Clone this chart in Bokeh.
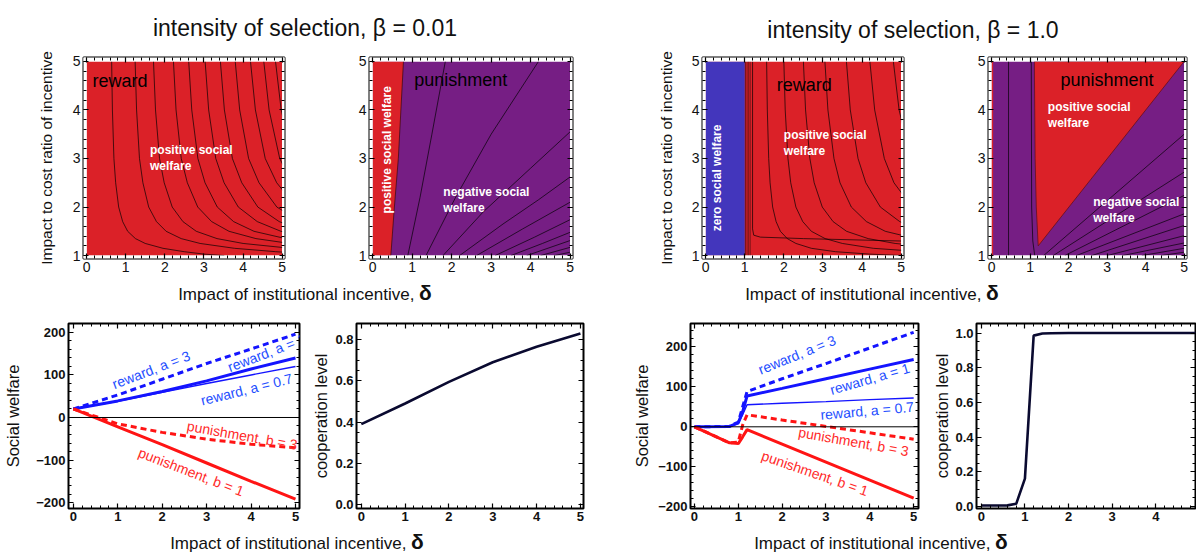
from bokeh.plotting import figure
from bokeh.layouts import row, column
from bokeh.models import Div, Range1d, LinearAxis, Span, FixedTicker
from bokeh.core.properties import value
from bokeh.embed import file_html
from bokeh.resources import INLINE
import math

# ---------------- data ----------------
ticks_delta = [0, 1, 2, 3, 4, 5]
ticks_ratio = [1, 2, 3, 4, 5]
ticks_welfare = [-200, -100, 0, 100, 200]
ticks_coop_lo = [0.0, 0.2, 0.4, 0.6, 0.8]
ticks_coop_hi = [0.0, 0.2, 0.4, 0.6, 0.8, 1.0]

# panel 1: reward, beta = 0.01 (contours: x-position at ratio 5, common shape)
p1_top_x = [0.64, 1.24, 1.71, 2.22, 2.61, 3.03, 3.42, 3.80, 4.19, 4.53, 4.83]
p1_shape_y = [5, 4, 3, 2.5, 2, 1.7, 1.5, 1.35, 1.25, 1.15, 1.08, 1.03, 1.0]
p1_shape_x = [1, 1.03, 1.09, 1.16, 1.28, 1.44, 1.64, 1.95, 2.34, 3.05, 3.9, 4.7, 5.5]

# panel 2: punishment, beta = 0.01
p2_boundary_x = [0.46, 0.55, 0.65, 0.78]
p2_boundary_y = [1, 2, 3, 5]
p2_contours_x = [[0.89, 1.2, 1.5, 1.84], [1.35, 2.1, 3.0, 4.2], [1.78, 2.8, 4.0, 5.0],
                 [2.2, 3.3, 4.2, 5.0], [2.63, 3.8, 5.0], [3.1, 4.1, 5.0], [3.5, 4.3, 5.0],
                 [3.9, 5.0], [4.25, 5.0], [4.6, 5.0]]
p2_contours_y = [[1, 2.2, 3.5, 5], [1, 2.2, 3.5, 5], [1, 1.9, 2.8, 3.55],
                 [1, 1.65, 2.15, 2.62], [1, 1.55, 2.1], [1, 1.38, 1.74], [1, 1.25, 1.48],
                 [1, 1.31], [1, 1.17], [1, 1.07]]

# panel 3: reward, beta = 1.0
p3_zero_right = 1.0
p3_band_x = [1.02, 1.06, 1.10, 1.14]
p3_L_x = [1.2, 1.2, 1.23, 1.4, 2.5, 5.0]
p3_L_y = [5, 1.55, 1.42, 1.38, 1.35, 1.3]
p3_x0 = 1.12
p3_top_offset = [0.44, 0.88, 1.38, 1.93, 2.48, 3.08, 3.68]
p3_shape_y = [5, 4, 3, 2.5, 2, 1.7, 1.5, 1.35, 1.25, 1.15, 1.08, 1.03, 1.0]
p3_shape_x = [1, 1.04, 1.12, 1.2, 1.35, 1.55, 1.8, 2.2, 2.7, 3.6, 5.0, 7.0, 9.0]

# panel 4: punishment, beta = 1.0
p4_strip_right = 0.04
p4_tri_x = [1.11, 5.0, 1.21, 1.16, 1.13]
p4_tri_y = [5.0, 5.0, 1.2, 2.0, 3.0]
p4_vline_x = [0.44]
p4_curve_x = [1.03, 1.04, 1.07, 1.12]
p4_curve_y = [5, 2, 1.3, 1.0]
p4_fan_start_x = [1.35, 1.6, 1.9, 2.2, 2.6, 3.0, 3.4, 3.9, 4.4]
p4_fan_end_y = [3.5, 2.72, 2.24, 1.86, 1.62, 1.41, 1.26, 1.15, 1.07]

# panel 5: social welfare, beta = 0.01
w_lo_delta = [0, 1, 2, 3, 4, 5]
w_lo_reward_a3 = [20, 53, 90, 127, 161, 196]
w_lo_reward_a1 = [20, 39, 61, 86, 114, 140]
w_lo_reward_a07 = [20, 38, 59, 80, 100, 120]
w_lo_pun_b3 = [20, -15, -35, -51, -63, -71]
w_lo_pun_b1 = [20, -22, -64, -107, -150, -192]

# panel 6: cooperation, beta = 0.01
c_lo_delta = [0, 1, 2, 3, 4, 5]
c_lo_level = [0.39, 0.49, 0.595, 0.69, 0.765, 0.83]

# panel 7: social welfare, beta = 1.0
w_hi_delta = [0, 0.8, 1.0, 1.1, 1.2, 2, 3, 4, 5]
w_hi_reward_a3 = [0, 1, 12, 50, 88, 120, 158, 197, 236]
w_hi_reward_a1 = [0, 1, 10, 38, 77, 96, 120, 144, 168]
w_hi_reward_a07 = [0, 1, 8, 30, 55, 59, 63, 68, 72]
w_hi_pun_b3 = [0, -40, -38, 5, 30, 17, 1, -15, -31]
w_hi_pun_b1 = [0, -40, -42, -25, -7, -43, -88, -133, -178]

# panel 8: cooperation, beta = 1.0
c_hi_delta = [0, 0.2, 0.4, 0.6, 0.8, 1.0, 1.2, 1.4, 1.6, 2, 3, 4, 5]
c_hi_level = [0.005, 0.005, 0.005, 0.006, 0.015, 0.16, 0.985, 0.997, 0.999, 1, 1, 1, 1]

curve_names = ["reward, a = 3", "reward, a = 1", "reward, a = 0.7",
               "punishment, b = 3", "punishment, b = 1"]

# ---------------- styling ----------------
FONT = "Liberation Sans"
RED = "#DB2128"
PURPLE = "#761E84"
ZBLUE = "#4336BC"
LBLUE = "#1414FF"
LRED = "#FF1414"
TBLUE = "#1F4FFF"
TRED = "#FF2A2A"


def minor(lo, hi, step):
    n = int(round((hi - lo) / step))
    return [lo + i * step for i in range(n + 1)]


def make_fig(w, h, bl, br, bt, bb, xr, yr):
    p = figure(width=w, height=h, x_range=Range1d(*xr), y_range=Range1d(*yr),
               output_backend="svg", toolbar_location=None, title=None,
               min_border_left=bl, min_border_right=br,
               min_border_top=bt, min_border_bottom=bb)
    p.xgrid.visible = False
    p.ygrid.visible = False
    p.outline_line_color = "black"
    p.outline_line_width = 2
    p.background_fill_color = "white"
    p.border_fill_color = "white"
    return p


def style_axis(ax, ticks, mticks, fs, bold, show=True, overrides=None):
    ax.ticker = FixedTicker(ticks=ticks, minor_ticks=mticks)
    ax.axis_line_color = None
    ax.major_tick_in = 5
    ax.major_tick_out = 0
    ax.minor_tick_in = 3
    ax.minor_tick_out = 0
    ax.major_tick_line_width = 1.2
    ax.minor_tick_line_width = 1
    ax.major_label_text_font = FONT
    ax.major_label_text_font_style = "bold" if bold else "normal"
    if show:
        ax.major_label_text_color = "#111111"
        ax.major_label_text_font_size = fs
        ax.major_label_standoff = 3
    else:
        ax.major_label_text_color = None
        ax.major_label_text_font_size = "1px"
        ax.major_label_standoff = 0
    if overrides:
        ax.major_label_overrides = overrides


def setup_axes(p, xt, xm, yt, ym, fs, bold, ylabel=None, ylab_fs="15.5px",
               ylab_standoff=10, yover=None):
    style_axis(p.xaxis[0], xt, xm, fs, bold)
    style_axis(p.yaxis[0], yt, ym, fs, bold, overrides=yover)
    if ylabel:
        p.yaxis[0].axis_label = ylabel
        p.yaxis[0].axis_label_text_font = FONT
        p.yaxis[0].axis_label_text_font_size = ylab_fs
        p.yaxis[0].axis_label_text_font_style = "normal"
        p.yaxis[0].axis_label_text_color = "#111111"
        p.yaxis[0].axis_label_standoff = ylab_standoff
    top = LinearAxis()
    style_axis(top, xt, xm, fs, bold, show=False)
    p.add_layout(top, "above")
    right = LinearAxis()
    style_axis(right, yt, ym, fs, bold, show=False)
    p.add_layout(right, "right")


def mask(p):
    # white strip between the region plot and the frame
    p.quad(left=[-1, 5, -1, -1], right=[0, 6, 6, 6], bottom=[0, 0, 0, 5],
           top=[6, 6, 1, 6], fill_color="white", line_color=None)


def txt(p, x, y, s, size, color, bold=False, align="left", baseline="top", angle=0.0):
    p.text(x=[x], y=[y], text=[s], text_font=value(FONT), text_font_size=size,
           text_color=color, text_font_style="bold" if bold else "normal",
           text_align=align, text_baseline=baseline, angle=angle, text_line_height=1.15)


XR_TOP = (-0.08, 5.06)
YR_TOP = (0.94, 5.08)
xm_top = minor(0, 5, 0.2)
ym_top = minor(1, 5, 0.2)
H_TOP = 237

# ---- panel 1
p1 = make_fig(339, H_TOP, 83, 55, 12, 24, XR_TOP, YR_TOP)
p1.quad(left=[0], right=[5], bottom=[1], top=[5], fill_color=RED, line_color=None)
p1.multi_line(xs=[[s * v for v in p1_shape_x] for s in p1_top_x],
              ys=[p1_shape_y for _ in p1_top_x], line_color="black", line_width=0.8, line_alpha=0.85)
mask(p1)
txt(p1, 0.15, 4.8, "reward", "18px", "black")
txt(p1, 1.62, 3.32, "positive social\nwelfare", "12px", "white", bold=True)
setup_axes(p1, ticks_delta, xm_top, ticks_ratio, ym_top, "14px", False,
           ylabel="Impact to cost ratio of incentive", ylab_standoff=15)

# ---- panel 2
p2 = make_fig(303, H_TOP, 30, 70, 12, 24, XR_TOP, YR_TOP)
p2.quad(left=[0], right=[5], bottom=[1], top=[5], fill_color=PURPLE, line_color=None)
p2.patch(x=[0] + p2_boundary_x + [0], y=[1] + p2_boundary_y + [5], fill_color=RED, line_color=None)
p2.line(p2_boundary_x, p2_boundary_y, line_color="#3a0a10", line_width=0.9, line_alpha=0.8)
p2.multi_line(xs=p2_contours_x, ys=p2_contours_y, line_color="black", line_width=0.8, line_alpha=0.85)
mask(p2)
txt(p2, 1.05, 4.82, "punishment", "18px", "black")
txt(p2, 0.36, 3.18, "positive social welfare", "12px", "white", bold=True,
    align="center", baseline="middle", angle=math.pi / 2)
txt(p2, 1.79, 2.45, "negative social\nwelfare", "12px", "white", bold=True)
setup_axes(p2, ticks_delta, xm_top, ticks_ratio, ym_top, "14px", False)

# ---- panel 3
p3 = make_fig(316, H_TOP, 60, 55, 12, 24, XR_TOP, YR_TOP)
p3.quad(left=[0], right=[5], bottom=[1], top=[5], fill_color=RED, line_color=None)
p3.quad(left=[0], right=[p3_zero_right], bottom=[1], top=[5], fill_color=ZBLUE, line_color=None)
p3.multi_line(xs=[[v, v] for v in p3_band_x], ys=[[1, 5] for _ in p3_band_x],
              line_color="black", line_width=0.7, line_alpha=0.6)
p3.line(p3_L_x, p3_L_y, line_color="black", line_width=0.8, line_alpha=0.85)
p3.multi_line(xs=[[p3_x0 + s * v for v in p3_shape_x] for s in p3_top_offset],
              ys=[p3_shape_y for _ in p3_top_offset], line_color="black", line_width=0.8, line_alpha=0.85)
mask(p3)
txt(p3, 1.82, 4.72, "reward", "18px", "black")
txt(p3, 2.0, 3.62, "positive social\nwelfare", "12px", "white", bold=True)
txt(p3, 0.3, 2.6, "zero social welfare", "12px", "white", bold=True,
    align="center", baseline="middle", angle=math.pi / 2)
setup_axes(p3, ticks_delta, xm_top, ticks_ratio, ym_top, "14px", False,
           ylabel="Impact to cost ratio of incentive", ylab_standoff=14)

# ---- panel 4
p4 = make_fig(238, H_TOP, 30, 10, 12, 24, XR_TOP, YR_TOP)
p4.quad(left=[0], right=[5], bottom=[1], top=[5], fill_color=PURPLE, line_color=None)
p4.quad(left=[0], right=[p4_strip_right], bottom=[1], top=[5], fill_color=RED, line_color=None)
p4.patch(x=p4_tri_x, y=p4_tri_y, fill_color=RED, line_color="#5a0d1a", line_width=0.9, line_alpha=0.8)
p4.multi_line(xs=[[v, v] for v in p4_vline_x], ys=[[1, 5] for _ in p4_vline_x],
              line_color="black", line_width=0.8, line_alpha=0.85)
p4.line(p4_curve_x, p4_curve_y, line_color="black", line_width=0.8, line_alpha=0.85)
p4.multi_line(xs=[[sx, 5.0] for sx in p4_fan_start_x], ys=[[1.0, ey] for ey in p4_fan_end_y],
              line_color="black", line_width=0.8, line_alpha=0.85)
mask(p4)
txt(p4, 1.79, 4.82, "punishment", "18px", "black")
txt(p4, 1.46, 4.2, "positive social\nwelfare", "12px", "white", bold=True)
txt(p4, 2.64, 2.24, "negative social\nwelfare", "12px", "white", bold=True)
setup_axes(p4, ticks_delta, xm_top, ticks_ratio, ym_top, "14px", False)

# ---------------- bottom row ----------------
H_BOT = 226
xm_bot = minor(0, 5, 0.2)
wover = {-200: "\u2212200", -100: "\u2212100", 0: "0", 100: "100", 200: "200"}
cover_lo = {v: "%.1f" % v for v in ticks_coop_lo}
cover_hi = {v: "%.1f" % v for v in ticks_coop_hi}


def welfare_lines(p, xs, a3, a1, a07, b3, b1):
    p.add_layout(Span(location=0, dimension="width", line_color="black", line_width=1))
    p.line(xs, a07, line_color=LBLUE, line_width=1.4)
    p.line(xs, a1, line_color=LBLUE, line_width=3)
    p.line(xs, a3, line_color=LBLUE, line_width=3, line_dash="6 4")
    p.line(xs, b3, line_color=LRED, line_width=3, line_dash="6 4")
    p.line(xs, b1, line_color=LRED, line_width=3)


def welfare_labels(p, pos):
    cols = [TBLUE, TBLUE, TBLUE, TRED, TRED]
    for name, (x, y, ang), c in zip(curve_names, pos, cols):
        txt(p, x, y, name, "14px", c, align="center", baseline="middle",
            angle=math.radians(ang))


# ---- panel 5
p5 = make_fig(309, H_BOT, 68, 10, 21, 20, (-0.11, 5.09), (-214, 221))
welfare_lines(p5, w_lo_delta, w_lo_reward_a3, w_lo_reward_a1, w_lo_reward_a07, w_lo_pun_b3, w_lo_pun_b1)
welfare_labels(p5, [(1.75, 112, 21), (4.35, 152, 21), (3.9, 66, 14), (3.8, -42, -10), (2.65, -128, -21)])
setup_axes(p5, ticks_delta, xm_bot, ticks_welfare, minor(-200, 200, 20), "13px", True,
           ylabel="Social welfare", ylab_fs="16.5px", ylab_standoff=11, yover=wover)

# ---- panel 6
p6 = make_fig(321, H_BOT, 45, 47, 21, 20, (-0.11, 5.07), (-0.019, 0.878))
p6.line(c_lo_delta, c_lo_level, line_color="#0a0a30", line_width=2.6)
setup_axes(p6, ticks_delta, xm_bot, ticks_coop_lo, minor(0, 0.8, 0.05), "13px", True,
           ylabel="cooperation level", ylab_fs="16.5px", ylab_standoff=2, yover=cover_lo)

# ---- panel 7
p7 = make_fig(300, H_BOT, 57, 12, 21, 20, (-0.09, 5.11), (-204, 258))
welfare_lines(p7, w_hi_delta, w_hi_reward_a3, w_hi_reward_a1, w_hi_reward_a07, w_hi_pun_b3, w_hi_pun_b1)
welfare_labels(p7, [(2.34, 180, 22), (4.0, 120, 16), (3.94, 40, 5), (3.63, -37, -10), (2.75, -116, -19)])
setup_axes(p7, ticks_delta, xm_bot, ticks_welfare, minor(-200, 240, 20), "13px", True,
           ylabel="Social welfare", ylab_fs="16.5px", ylab_standoff=4, yover=wover)

# ---- panel 8
p8 = make_fig(266, H_BOT, 42, 1, 21, 20, (-0.11, 4.91), (-0.012, 1.055))
p8.line(c_hi_delta, c_hi_level, line_color="#0a0a30", line_width=2.6)
setup_axes(p8, ticks_delta, xm_bot, ticks_coop_hi, minor(0, 1.0, 0.05), "13px", True,
           ylabel="cooperation level", ylab_fs="16.5px", ylab_standoff=1, yover=cover_hi)


# ---------------- text rows ----------------
def label_div(html, w, h, fs, pl=0, pr=0, pt=0):
    style = ("width:%dpx;height:%dpx;box-sizing:border-box;display:flex;align-items:center;"
             "justify-content:center;padding-left:%dpx;padding-right:%dpx;padding-top:%dpx;"
             "font-family:'Liberation Sans';font-size:%spx;line-height:1;color:#111;"
             "white-space:nowrap;overflow:visible;"
             % (w, h, pl, pr, pt, fs))
    return Div(text='<div style="%s"><span>%s</span></div>' % (style, html),
               width=w, height=h, margin=0)


XLAB = 'Impact of institutional incentive, <b style="font-size:21px">\u03b4</b>'
row_a = row(label_div("intensity of selection, \u03b2 = 0.01", 602, 45, 23, pl=8, pt=11),
            label_div("intensity of selection, \u03b2 = 1.0", 594, 45, 23, pl=28, pt=15))
row_b = row(p1, p2, p3, p4)
row_c = row(label_div(XLAB, 594, 20, 17, pl=16), label_div(XLAB, 602, 20, 17, pr=46))
row_d = row(p5, p6, p7, p8)
row_e = row(label_div(XLAB, 586, 26, 17, pl=8), label_div(XLAB, 610, 26, 17, pr=20))

layout = column(row_a, row_b, row_c, row_d, row_e)

open("out.html", "w").write(file_html(layout, INLINE))
